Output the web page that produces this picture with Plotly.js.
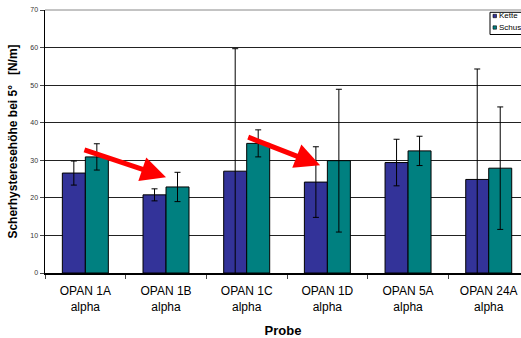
<!DOCTYPE html>
<html>
<head>
<meta charset="utf-8">
<script src="https://cdn.plot.ly/plotly-3.0.1.min.js"></script>
<style>body{margin:0;padding:0;background:#fff}#chart{width:521px;height:338px}</style>
</head>
<body>
<div id="chart"></div>
<script>
var categories = ["OPAN 1A<br>alpha", "OPAN 1B<br>alpha", "OPAN 1C<br>alpha", "OPAN 1D<br>alpha", "OPAN 5A<br>alpha", "OPAN 24A<br>alpha"];
var ketteValues = [26.6, 20.8, 27.1, 24.2, 29.4, 24.9];
var ketteErrors = [3.2, 1.6, 32.6, 9.4, 6.2, 29.4];
var schussValues = [30.9, 22.9, 34.5, 29.9, 32.5, 27.9];
var schussErrors = [3.5, 3.9, 3.6, 19.0, 3.9, 16.3];
var yTicks = [0, 10, 20, 30, 40, 50, 60, 70];
var seriesNames = ["Kette", "Schuss"];
var seriesColors = ["#333399", "#008080"];

var traces = [
  {type: "bar", name: seriesNames[0], x: categories, y: ketteValues,
   marker: {color: seriesColors[0], line: {color: "#000", width: 1}},
   error_y: {type: "data", array: ketteErrors, visible: true, color: "#000", thickness: 1, width: 3}},
  {type: "bar", name: seriesNames[1], x: categories, y: schussValues,
   marker: {color: seriesColors[1], line: {color: "#000", width: 1}},
   error_y: {type: "data", array: schussErrors, visible: true, color: "#000", thickness: 1, width: 3}}
];

// compact legend drawn in paper coordinates (plot area: 45..521 px wide, 10..273 px tall)
function px(x) { return (x - 45) / 476; }
function py(y) { return (273 - y) / 263; }
var legendShapes = [
  {type: "rect", xref: "paper", yref: "paper", x0: px(490), x1: px(540), y0: py(34.5), y1: py(12.3),
   fillcolor: "#fff", line: {color: "#000", width: 1}}
];
var legendAnns = [];
var rowY = [16, 27.5];
for (var i = 0; i < seriesNames.length; i++) {
  legendShapes.push({type: "rect", xref: "paper", yref: "paper", x0: px(493), x1: px(496.5),
    y0: py(rowY[i] + 1.7), y1: py(rowY[i] - 1.7), fillcolor: seriesColors[i], line: {color: "#000", width: 0.6}});
  legendAnns.push({xref: "paper", yref: "paper", x: px(497.3), y: py(rowY[i]), xanchor: "left", yanchor: "middle",
    text: seriesNames[i], showarrow: false, font: {size: 8, color: "#000"}});
}

var layout = {
  width: 521, height: 338,
  margin: {l: 45, r: 0, t: 10, b: 65},
  paper_bgcolor: "#fff", plot_bgcolor: "#fff",
  font: {family: "Liberation Sans, Arial, sans-serif", color: "#000"},
  barmode: "group", bargap: 0.43, bargroupgap: 0,
  showlegend: false,
  xaxis: {
    type: "category", range: [-0.5, 5.4],
    tickson: "boundaries", ticks: "outside", ticklen: 4, tickcolor: "#444",
    showline: true, linecolor: "#000", linewidth: 1.5,
    tickfont: {size: 12}, ticklabelstandoff: 6,
    title: {text: "<b>Probe</b>", font: {size: 13}, standoff: 14},
    showgrid: false
  },
  yaxis: {
    range: [0, 70], tickvals: yTicks, ticks: "outside", ticklen: 4, tickcolor: "#444",
    showline: true, linecolor: "#000", linewidth: 1.5,
    tickfont: {size: 7, color: "#333"},
    gridcolor: "#222", gridwidth: 1, zeroline: false,
    title: {text: "<b>Scherhysteresehöhe bei 5°\u00a0\u00a0\u00a0[N/m]</b>", font: {size: 12}, standoff: 10}
  },
  annotations: [
    {xref: "x", yref: "y", axref: "x", ayref: "y", x: 1.0, y: 25.5, ax: -0.03, ay: 32.9,
     text: "", showarrow: true, arrowhead: 2, arrowsize: 1.0, arrowwidth: 5, arrowcolor: "#ff0000"},
    {xref: "x", yref: "y", axref: "x", ayref: "y", x: 2.91, y: 28.7, ax: 2.0, ay: 36.3,
     text: "", showarrow: true, arrowhead: 2, arrowsize: 1.0, arrowwidth: 5, arrowcolor: "#ff0000"}
  ].concat(legendAnns),
  shapes: [
    {type: "line", xref: "paper", yref: "paper", x0: 0, x1: 1, y0: 1, y1: 1, line: {color: "#888", width: 1}}
  ].concat(legendShapes)
};

Plotly.newPlot("chart", traces, layout, {displayModeBar: false, staticPlot: true});
</script>
</body>
</html>
